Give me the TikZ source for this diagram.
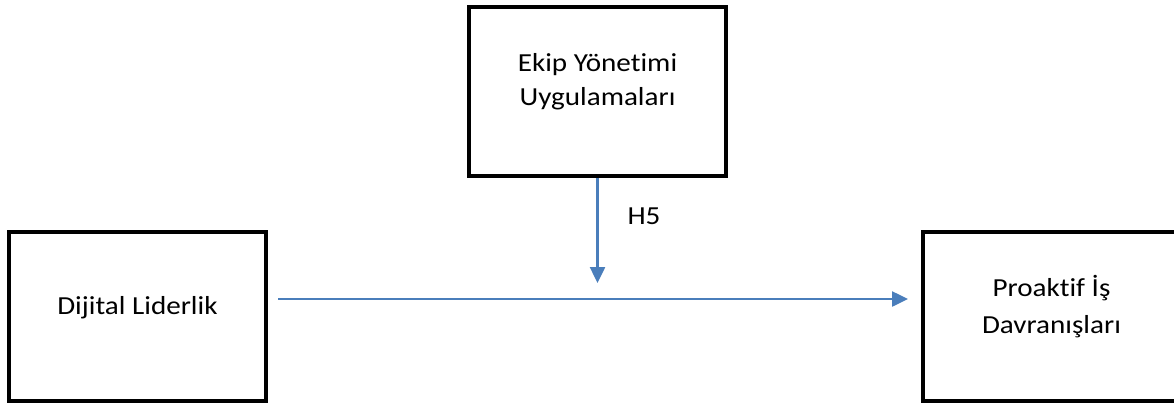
\documentclass[tikz,border=0pt]{standalone}
\usepackage{fontspec}
\setmainfont{Carlito}[FakeStretch=1.12, Ligatures=NoCommon]
\usetikzlibrary{arrows.meta, positioning, calc}
\definecolor{linkblue}{HTML}{4A7EBB}

\begin{document}
\begin{tikzpicture}[x=1pt, y=1pt]
        \tikzstyle{varbox} = [rectangle, minimum width=257pt, minimum height=169pt, text centered, align=center, draw=black, line width=4pt]
        \tikzstyle{arrow} = [draw=linkblue, line width=2.5pt, -{Triangle[length=16pt, width=15pt]}]

        \useasboundingbox (0,0) rectangle (1174,-410);

        \node (eyu) [varbox, text depth=24pt, font=\fontsize{26}{33.5}\selectfont] at (597.5,-91.5) {Ekip Yönetimi\\Uygulamaları};
        \node (dl) [varbox, text depth=22pt, font=\fontsize{26}{33.5}\selectfont] at (137.5,-316.5) {Dijital Liderlik};
        \node (pid) [varbox, text depth=24pt, font=\fontsize{26}{36.5}\selectfont] at (1051.5,-316.5) {Proaktif İş\\Davranışları};
        \node (h5) [font=\fontsize{26}{30}\selectfont] at (644,-216.5) {H5};

        \coordinate (hs) at ([yshift=17.5pt]dl.east);
        \coordinate (he) at ([yshift=17.5pt]pid.west);
        \coordinate (vm) at (eyu.south |- hs);

        \draw [arrow, shorten <=10pt, shorten >=13pt] (hs) -- (he);
        \draw [arrow, shorten >=16pt] (eyu.south) -- (vm);
    \end{tikzpicture}
\end{document}
